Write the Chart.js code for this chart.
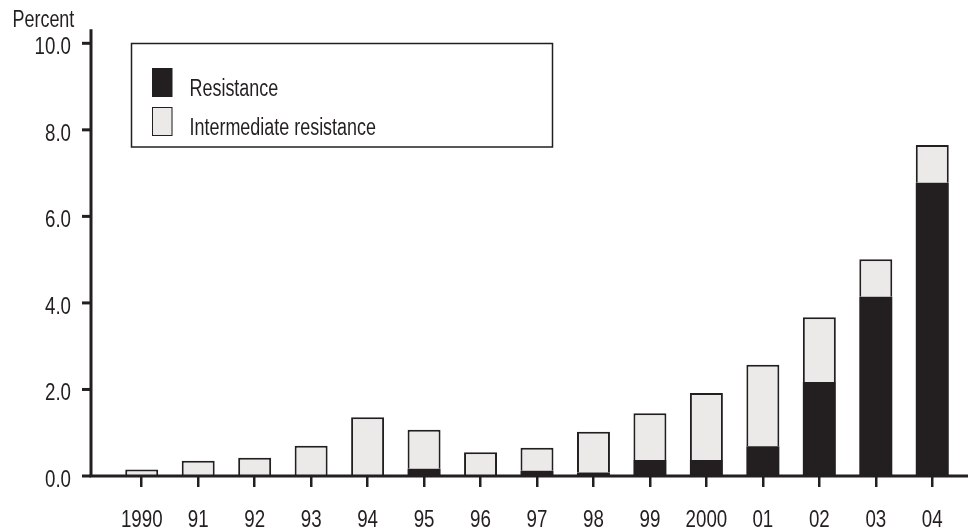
<!DOCTYPE html>
<html>
<head>
<meta charset="utf-8">
<script src="https://cdn.jsdelivr.net/npm/chart.js@4/dist/chart.umd.min.js"></script>
<style>
  html, body { margin: 0; padding: 0; background: #fff; }
  #wrap { width: 968px; height: 531px; position: relative; }
</style>
</head>
<body>
<div id="wrap"><canvas id="chart"></canvas></div>
<script>
// Years on the x axis
const years = ['1990', '91', '92', '93', '94', '95', '96', '97', '98', '99', '2000', '01', '02', '03', '04'];

// Percent of isolates
const resistance   = [0, 0, 0, 0, 0.02, 0.17, 0.02, 0.12, 0.08, 0.37, 0.37, 0.69, 2.17, 4.14, 6.78];
const intermediate = [0.15, 0.35, 0.42, 0.70, 1.34, 0.90, 0.53, 0.53, 0.94, 1.08, 1.55, 1.88, 1.50, 0.87, 0.87];

const yTicks = [0, 2, 4, 6, 8, 10];

const INK = '#231f20';
const LIGHT = '#ebeae8';
const FONT = '"Liberation Sans", Arial, sans-serif';
const SQUEEZE = 0.78; // the original type is a narrow face

// draw text squeezed horizontally, anchored at (x, y) baseline
function narrowText(ctx, text, x, y, align, size) {
    ctx.save();
    ctx.font = size + 'px ' + FONT;
    ctx.textAlign = align;
    ctx.textBaseline = 'alphabetic';
    ctx.translate(x, y);
    ctx.scale(SQUEEZE, 1);
    ctx.fillText(text, 0, 0);
    ctx.restore();
}

// Axis lines, tick labels, "Percent" label and boxed legend
const framePlugin = {
    id: 'frame',
    afterDraw(chart) {
        const ctx = chart.ctx;
        const y = chart.scales.y;
        const x = chart.scales.x;
        const axisX = 91;
        const base = y.getPixelForValue(0);

        ctx.save();
        ctx.strokeStyle = INK;
        ctx.fillStyle = INK;
        ctx.lineCap = 'butt';

        // y axis line
        ctx.lineWidth = 3;
        ctx.beginPath();
        ctx.moveTo(axisX, y.getPixelForValue(10) - 14);
        ctx.lineTo(axisX, base + 1);
        ctx.stroke();

        // y tick marks and labels
        yTicks.forEach(function(v) {
            const py = y.getPixelForValue(v);
            ctx.beginPath();
            ctx.moveTo(82, py);
            ctx.lineTo(axisX, py);
            ctx.stroke();
            narrowText(ctx, v.toFixed(1), 71, py + 10.7, 'right', 24);
        });

        // baseline
        ctx.beginPath();
        ctx.moveTo(axisX - 1.5, base);
        ctx.lineTo(chart.width, base);
        ctx.stroke();

        // x labels
        years.forEach(function(lbl, i) {
            narrowText(ctx, lbl, x.getPixelForTick(i), base + 50.7, 'center', 24);
        });

        // "Percent"
        narrowText(ctx, 'Percent', 12.5, 26.7, 'left', 23);

        // legend box
        ctx.lineWidth = 1.5;
        ctx.strokeRect(131.5, 43.5, 421, 103.5);

        const items = chart.data.datasets;
        const rows = [68, 107];
        items.forEach(function(ds, i) {
            const top = rows[i];
            ctx.fillStyle = ds.backgroundColor;
            ctx.fillRect(152, top, 20.5, 29);
            if (i === 1) {
                ctx.lineWidth = 1;
                ctx.strokeStyle = INK;
                ctx.strokeRect(152.5, top + 0.5, 19.5, 28);
            }
            ctx.fillStyle = INK;
            narrowText(ctx, ds.label, 189.5, top + 27.5, 'left', 23);
        });

        ctx.restore();
    }
};

const ctx = document.getElementById('chart').getContext('2d');

new Chart(ctx, {
    type: 'bar',
    data: {
        labels: years,
        datasets: [
            {
                label: 'Resistance',
                data: resistance,
                backgroundColor: INK,
                borderWidth: 0,
                categoryPercentage: 1,
                barPercentage: 0.584
            },
            {
                label: 'Intermediate resistance',
                data: intermediate,
                backgroundColor: LIGHT,
                borderColor: INK,
                borderWidth: 2,
                borderSkipped: 'bottom',
                categoryPercentage: 1,
                barPercentage: 0.584
            }
        ]
    },
    options: {
        responsive: true,
        maintainAspectRatio: false,
        animation: false,
        layout: {
            padding: { left: 0, right: 7.5, top: 43.3, bottom: 0 }
        },
        plugins: {
            legend: { display: false },
            tooltip: { enabled: false }
        },
        scales: {
            x: {
                stacked: true,
                offset: true,
                border: { display: false },
                grid: {
                    offset: false,
                    drawOnChartArea: false,
                    drawTicks: true,
                    tickLength: 11,
                    color: INK,
                    lineWidth: 2.5
                },
                ticks: { display: false, autoSkip: false },
                afterFit(scale) { scale.height = 55; }
            },
            y: {
                stacked: true,
                min: 0,
                max: 10,
                border: { display: false },
                grid: { display: false, drawTicks: false },
                ticks: { display: false },
                afterFit(scale) { scale.width = 113.5; }
            }
        }
    },
    plugins: [framePlugin]
});
</script>
</body>
</html>
